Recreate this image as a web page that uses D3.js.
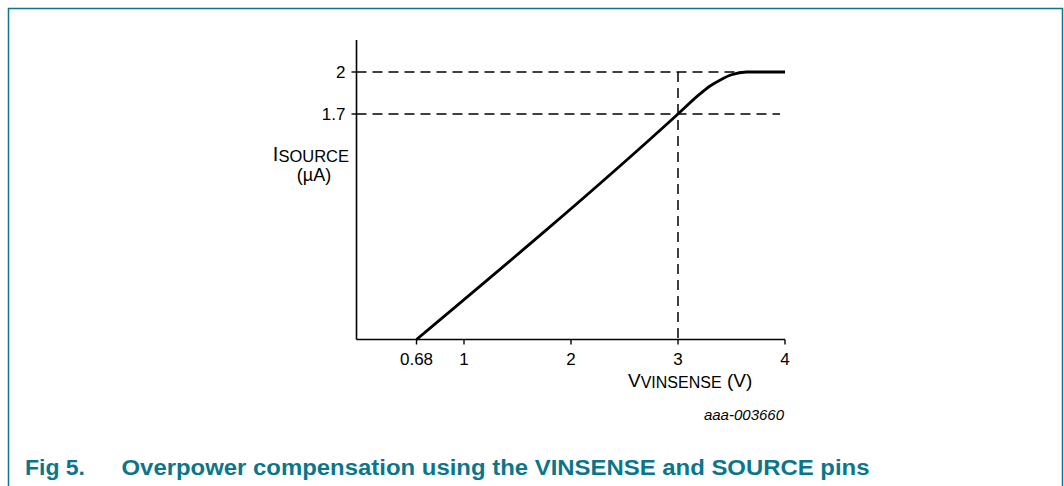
<!DOCTYPE html>
<html>
<head>
<meta charset="utf-8">
<script src="https://cdn.jsdelivr.net/npm/d3@7"></script>
<style>
  html, body { margin: 0; padding: 0; background: #fff; }
  svg { display: block; font-family: Arial, "Liberation Sans", Helvetica, sans-serif; }
</style>
</head>
<body>
<div id="chart"></div>
<script>
// curve points (schematic)
const vinsense = [0.68, 3, 3.2, 3.3, 3.4, 3.5, 3.64, 4];
const isource = [0, 1.7, 1.84, 1.9, 1.945, 1.98, 2, 2];

const xTicks = [0.68, 1, 2, 3, 4];
const yTicks = [1.7, 2];
const refX = 3;          // vertical dashed marker
const refY = [1.7, 2];   // horizontal dashed markers

const width = 1064, height = 486;
const teal = "#0b7689";

const svg = d3.select("#chart").append("svg")
  .attr("width", width)
  .attr("height", height);

// frame around the figure (bottom edge is off-page)
svg.append("path")
  .attr("d", "M8.5,490 V8.5 H1062.5 V490")
  .attr("fill", "none")
  .attr("stroke", teal)
  .attr("stroke-width", 1.5);

// the drawing is schematic: the axes are not to scale, so piecewise scales
const x = d3.scaleLinear()
  .domain([0, 0.68, 1, 4])
  .range([356.5, 416.5, 464, 785]);

const y = d3.scaleLinear()
  .domain([0, 1.7, 2])
  .range([339.5, 114, 72]);

const g = svg.append("g");

// axes lines
g.append("line")
  .attr("x1", x(0)).attr("x2", x(0))
  .attr("y1", 40).attr("y2", y(0))
  .attr("stroke", "#000").attr("stroke-width", 1.6);

g.append("line")
  .attr("x1", x(0)).attr("x2", x(4))
  .attr("y1", y(0)).attr("y2", y(0))
  .attr("stroke", "#000").attr("stroke-width", 1.6);

// x ticks
const xt = g.selectAll(".xtick").data(xTicks).enter().append("g")
  .attr("class", "xtick")
  .attr("transform", d => `translate(${x(d)},${y(0)})`);
xt.append("line").attr("y1", 0).attr("y2", 5)
  .attr("stroke", "#000").attr("stroke-width", 1.4);
xt.append("text")
  .attr("y", 25)
  .attr("text-anchor", "middle")
  .style("font-size", "17px")
  .text(d => d);

// y ticks
const yt = g.selectAll(".ytick").data(yTicks).enter().append("g")
  .attr("class", "ytick")
  .attr("transform", d => `translate(${x(0)},${y(d)})`);
yt.append("line").attr("x1", -5).attr("x2", 0)
  .attr("stroke", "#000").attr("stroke-width", 1.4);
yt.append("text")
  .attr("x", -11)
  .attr("dy", "0.36em")
  .attr("text-anchor", "end")
  .style("font-size", "17px")
  .text(d => d);

// dashed reference lines
g.selectAll(".hdash").data(refY).enter().append("line")
  .attr("class", "hdash")
  .attr("x1", x(0)).attr("x2", 780)
  .attr("y1", d => y(d)).attr("y2", d => y(d))
  .attr("stroke", "#000").attr("stroke-width", 1.5)
  .attr("stroke-dasharray", "10,6");

g.append("line")
  .attr("x1", x(refX)).attr("x2", x(refX))
  .attr("y1", y(2)).attr("y2", y(0))
  .attr("stroke", "#000").attr("stroke-width", 1.5)
  .attr("stroke-dasharray", "10,6");

// the curve
const pts = vinsense.map((v, i) => [v, isource[i]]);
g.append("path")
  .datum(pts)
  .attr("fill", "none")
  .attr("stroke", "#000")
  .attr("stroke-width", 2.8)
  .attr("stroke-linejoin", "round")
  .attr("d", d3.line().x(d => x(d[0])).y(d => y(d[1])).curve(d3.curveMonotoneX));

// y axis label
const yl = g.append("text")
  .attr("x", 349).attr("y", 160.5)
  .attr("text-anchor", "end");
yl.append("tspan").style("font-size", "20px").text("I");
yl.append("tspan").style("font-size", "16.5px").attr("dy", 1).text("SOURCE");

g.append("text")
  .attr("x", 314).attr("y", 181)
  .attr("text-anchor", "middle")
  .style("font-size", "18px")
  .text("(µA)");

// x axis label
const xl = g.append("text")
  .attr("x", 628).attr("y", 387);
xl.append("tspan").style("font-size", "19px").text("V");
xl.append("tspan").style("font-size", "16px").attr("dy", 1).text("VINSENSE");
xl.append("tspan").style("font-size", "19px").attr("dy", -1).text(" (V)");

// figure id
g.append("text")
  .attr("x", 784).attr("y", 420)
  .attr("text-anchor", "end")
  .style("font-size", "15px")
  .style("font-style", "italic")
  .text("aaa-003660");

// caption
svg.append("text")
  .attr("x", 25).attr("y", 475)
  .attr("fill", teal)
  .style("font-size", "22px")
  .style("font-weight", "bold")
  .attr("textLength", 60)
  .attr("lengthAdjust", "spacingAndGlyphs")
  .text("Fig 5.");

svg.append("text")
  .attr("x", 121.5).attr("y", 475)
  .attr("fill", teal)
  .style("font-size", "22px")
  .style("font-weight", "bold")
  .attr("textLength", 748)
  .attr("lengthAdjust", "spacingAndGlyphs")
  .text("Overpower compensation using the VINSENSE and SOURCE pins");
</script>
</body>
</html>
